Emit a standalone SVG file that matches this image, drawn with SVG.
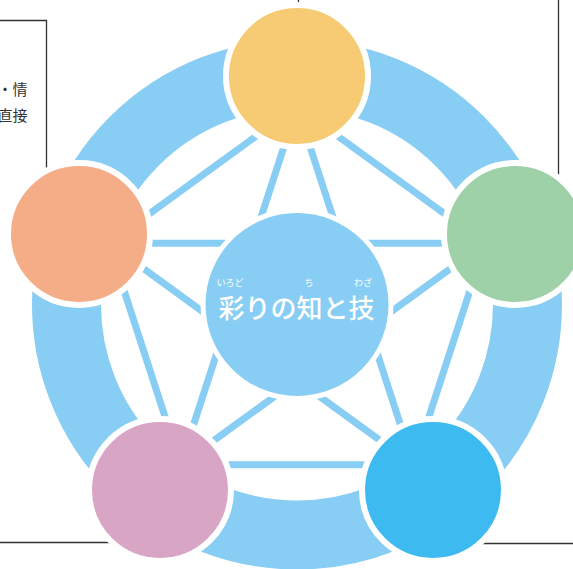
<svg xmlns="http://www.w3.org/2000/svg" width="573" height="569" viewBox="0 0 573 569">
<style>
.frame{fill:none;stroke:#333;stroke-width:1.3}
.ring{fill:none;stroke:#88CDF3;stroke-width:69}
.conn{stroke:#88CDF3;stroke-width:7;stroke-linecap:butt}
.node{stroke:#fff;stroke-width:6}
.side{font-family:"Noto Sans CJK JP","Noto Sans CJK SC",sans-serif;font-size:15px;fill:#333;text-anchor:end}
.title{font-family:"Noto Sans CJK JP","Noto Sans CJK SC",sans-serif;fill:#fff;text-anchor:middle}
</style>
<rect width="573" height="569" fill="#fff"/>
<g id="frames">
<polyline class="frame" points="0,20.5 46.5,20.5 46.5,200"/>
<line class="frame" x1="298.5" y1="0" x2="298.5" y2="20"/>
<line class="frame" x1="558.5" y1="0" x2="558.5" y2="200"/>
<line class="frame" x1="0" y1="542.5" x2="200" y2="542.5"/>
<line class="frame" x1="400" y1="543.5" x2="573" y2="543.5"/>
<text class="side" x="27.5" y="95">・情</text>
<text class="side" x="27.5" y="121">直接</text>
</g>
<g id="ring">
<circle class="ring" cx="297" cy="304.5" r="230.5"/>
</g>
<g id="connectors">
<line class="conn" x1="297" y1="106.5" x2="485.3" y2="243.3"/>
<line class="conn" x1="297" y1="106.5" x2="413.4" y2="464.7"/>
<line class="conn" x1="297" y1="106.5" x2="180.6" y2="464.7"/>
<line class="conn" x1="297" y1="106.5" x2="108.7" y2="243.3"/>
<line class="conn" x1="485.3" y1="243.3" x2="413.4" y2="464.7"/>
<line class="conn" x1="485.3" y1="243.3" x2="180.6" y2="464.7"/>
<line class="conn" x1="485.3" y1="243.3" x2="108.7" y2="243.3"/>
<line class="conn" x1="413.4" y1="464.7" x2="180.6" y2="464.7"/>
<line class="conn" x1="413.4" y1="464.7" x2="108.7" y2="243.3"/>
<line class="conn" x1="180.6" y1="464.7" x2="108.7" y2="243.3"/>
</g>
<g id="center">
<circle cx="297" cy="304.5" r="94" fill="#88CDF3" stroke="#fff" stroke-width="5"/>
<text class="title" x="296.5" y="318" font-size="26" font-weight="500">彩りの知と技</text>
<text class="title" x="230" y="286" font-size="9">いろど</text>
<text class="title" x="309" y="286" font-size="9">ち</text>
<text class="title" x="363" y="286" font-size="9">わざ</text>
</g>
<g id="node-top"><circle class="node" cx="297" cy="76" r="71" fill="#F7CB73"/></g>
<g id="node-right"><circle class="node" cx="515" cy="234" r="71" fill="#9ED1A8"/></g>
<g id="node-bottom-right"><circle class="node" cx="433" cy="490" r="71" fill="#3DBBF0"/></g>
<g id="node-bottom-left"><circle class="node" cx="160" cy="490" r="71" fill="#D9A5C5"/></g>
<g id="node-left"><circle class="node" cx="79" cy="234" r="71" fill="#F5AD88"/></g>
</svg>
